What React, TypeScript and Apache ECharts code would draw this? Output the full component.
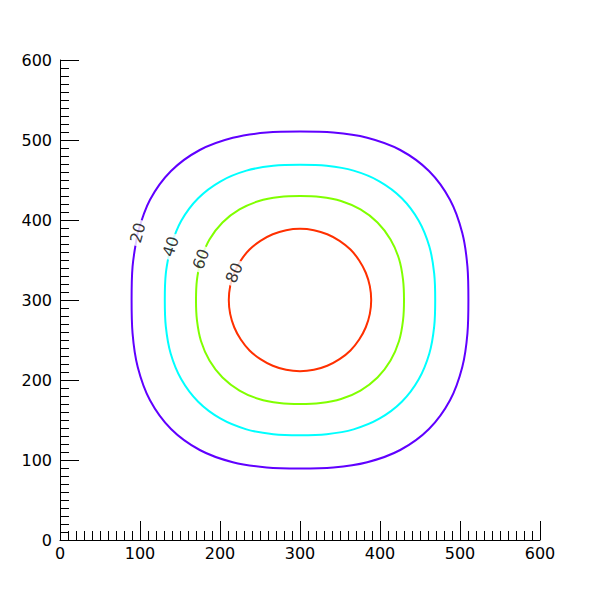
import React, { useEffect, useRef } from "react";
import * as echarts from "echarts";

// Contour levels and their colours
const levels = [20, 40, 60, 80];
const levelColors = ["#6000ff", "#00ffff", "#80ff00", "#ff3000"];

// Polar sampling of each contour (angle in degrees, counter-clockwise from +x, around centre 300,300)
const angles = [
  157.5, 168.75, 180, 191.25, 202.5, 213.75, 225, 236.25, 247.5, 258.75, 270, 281.25, 292.5, 303.75, 315, 326.25,
  337.5, 348.75, 0, 11.25, 22.5, 33.75, 45, 56.25, 67.5, 78.75, 90, 101.25, 112.5, 123.75, 135, 146.25, 157.5,
];
// Distance from the centre (data units) at each angle
const radius20 = [
  219.5, 213.4, 210.5, 213.4, 219.5, 225.5, 228, 225.5, 219.5, 213.4, 210.5, 213.4, 219.5, 225.5, 228, 225.5,
  219.5, 213.4, 210.5, 213.4, 219.5, 225.5, 228, 225.5, 219.5, 213.4, 210.5, 213.4, 219.5, 225.5, 228, 225.5, 219.5,
];
const radius40 = [
  175, 171, 169, 171, 175, 178.5, 180, 178.5, 175, 171, 169, 171, 175, 178.5, 180, 178.5,
  175, 171, 169, 171, 175, 178.5, 180, 178.5, 175, 171, 169, 171, 175, 178.5, 180, 178.5, 175,
];
const radius60 = [
  134, 131.3, 130, 131.3, 134, 136.1, 137, 136.1, 134, 131.3, 130, 131.3, 134, 136.1, 137, 136.1,
  134, 131.3, 130, 131.3, 134, 136.1, 137, 136.1, 134, 131.3, 130, 131.3, 134, 136.1, 137, 136.1, 134,
];
const radius80 = [
  89, 89, 89, 89, 89, 89, 89.2, 89, 89, 89, 89, 89, 89, 89, 89.2, 89,
  89, 89, 89, 89, 89, 89, 89.2, 89, 89, 89, 89, 89, 89, 89, 89.2, 89, 89,
];
const contourRadii = [radius20, radius40, radius60, radius80];

// Contour label placement (on each curve, polar coordinates)
const labelAngle = 157.5;
const labelRadius = [219.5, 175, 134, 89];
const labelRotate = [75, 72, 69, 67];

// Axis ticks
const axisMin = 0;
const axisMax = 600;
const axisInterval = 100;

export default function App() {
  const ref = useRef<HTMLDivElement>(null);

  useEffect(() => {
    if (!ref.current) return;
    const chart = echarts.init(ref.current, undefined, { renderer: "svg" });

    const axisCommon = (isY: boolean) => ({
      type: "value",
      min: axisMin,
      max: axisMax,
      interval: axisInterval,
      axisLine: { show: true, onZero: false, lineStyle: { color: "#000", width: 1 } },
      axisTick: { show: true, inside: true, length: 19, lineStyle: { color: "#000", width: 1 } },
      minorTick: { show: true, splitNumber: 10, length: 9, lineStyle: { color: "#000", width: 1 } },
      axisLabel: {
        show: true,
        color: "#000",
        fontSize: 16,
        fontFamily: "DejaVu Sans",
        margin: isY ? 8 : 5,
        showMinLabel: true,
        showMaxLabel: true,
      },
      splitLine: { show: false },
      minorSplitLine: { show: false },
    });

    const lineSeries = levels.map((lv, i) => ({
      type: "line",
      name: String(lv),
      coordinateSystem: "polar",
      data: angles.map((a, k) => [contourRadii[i][k], a]),
      smooth: 0.34,
      showSymbol: false,
      symbol: "none",
      silent: true,
      clip: false,
      lineStyle: { color: levelColors[i], width: 2 },
      z: 2,
    }));

    const labelSeries = {
      type: "scatter",
      coordinateSystem: "polar",
      symbolSize: 1,
      silent: true,
      itemStyle: { color: "rgba(0,0,0,0)" },
      z: 5,
      data: levels.map((lv, i) => ({
        value: [labelRadius[i], labelAngle],
        label: {
          show: true,
          position: "inside",
          formatter: String(lv),
          rotate: labelRotate[i],
          color: "#000",
          fontSize: 16,
          fontFamily: "DejaVu Sans",
          backgroundColor: "#fff",
          padding: [0, 3],
        },
      })),
    };

    chart.setOption({
      animation: false,
      backgroundColor: "#fff",
      grid: { left: 60, right: 60, top: 60, bottom: 60, containLabel: false, outerBoundsMode: "none" },
      xAxis: axisCommon(false),
      yAxis: axisCommon(true),
      polar: { center: [300, 300], radius: 240 },
      radiusAxis: {
        type: "value",
        min: 0,
        max: 300,
        show: false,
        axisLine: { show: false },
        axisTick: { show: false },
        axisLabel: { show: false },
        splitLine: { show: false },
      },
      angleAxis: {
        type: "value",
        min: 0,
        max: 360,
        startAngle: 0,
        clockwise: false,
        show: false,
        axisLine: { show: false },
        axisTick: { show: false },
        axisLabel: { show: false },
        splitLine: { show: false },
        splitArea: { show: false },
      },
      series: [...lineSeries, labelSeries],
    });

    return () => chart.dispose();
  }, []);

  return (
    <div
      ref={ref}
      style={{ position: "fixed", left: 0, top: 0, width: 600, height: 600 }}
    />
  );
}
